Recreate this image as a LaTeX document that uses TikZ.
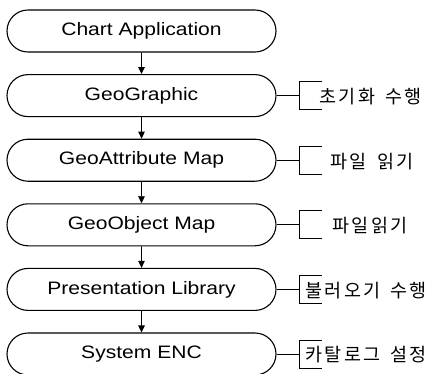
\documentclass[tikz,border=0pt]{standalone}
\usepackage{fontspec}
\setmainfont{Liberation Sans}[FakeStretch=1.17]
\newfontfamily\kofont{Noto Sans CJK KR}[LetterSpace=12,WordSpace=1.6]
\usetikzlibrary{shapes.misc,arrows.meta}

\tikzset{
  term/.style={rounded rectangle, draw, line width=1.1pt, minimum width=269pt,
    minimum height=42pt, inner sep=0pt, font=\fontsize{18}{20}\selectfont},
  flow/.style={line width=0.9pt, -{Triangle[length=7pt,width=6.5pt]}},
  note/.style={anchor=west, inner sep=0pt, font=\kofont\fontsize{18.5}{20}\selectfont}
}

\begin{document}
\begin{tikzpicture}[x=1pt,y=-1pt]
\useasboundingbox (0,0) rectangle (434,373);
% the chain of modules
\foreach \name/\txt [count=\i from 0] in {chart/Chart Application, geo/GeoGraphic,
    attr/GeoAttribute Map, obj/GeoObject Map, pres/Presentation Library, enc/System ENC}
  \node[term] (\name) at (141.5, 31+64.6*\i) {\txt};
\foreach \a/\b in {chart/geo, geo/attr, attr/obj, obj/pres, pres/enc}
  \draw[flow] (\a) -- (\b);
% side notes with their brackets
\foreach \name/\txt/\dx in {geo/초기화 수행/20, attr/파일 읽기/31, obj/파일읽기/33,
    pres/불러오기 수행/6, enc/카탈로그 설정/6} {
  \coordinate (\name-b) at ([xshift=23pt]\name.east);
  \draw[line width=0.9pt] (\name.east) -- (\name-b);
  \draw[line width=0.9pt] ([shift={(22,-14)}]\name-b) -- ([shift={(0,-14)}]\name-b)
    -- ([shift={(0,14)}]\name-b) -- ([shift={(22,14)}]\name-b);
  \node[note] (\name-n) at ([xshift=\dx pt,yshift=-1pt]\name-b) {\txt};
}
\end{tikzpicture}
\end{document}
